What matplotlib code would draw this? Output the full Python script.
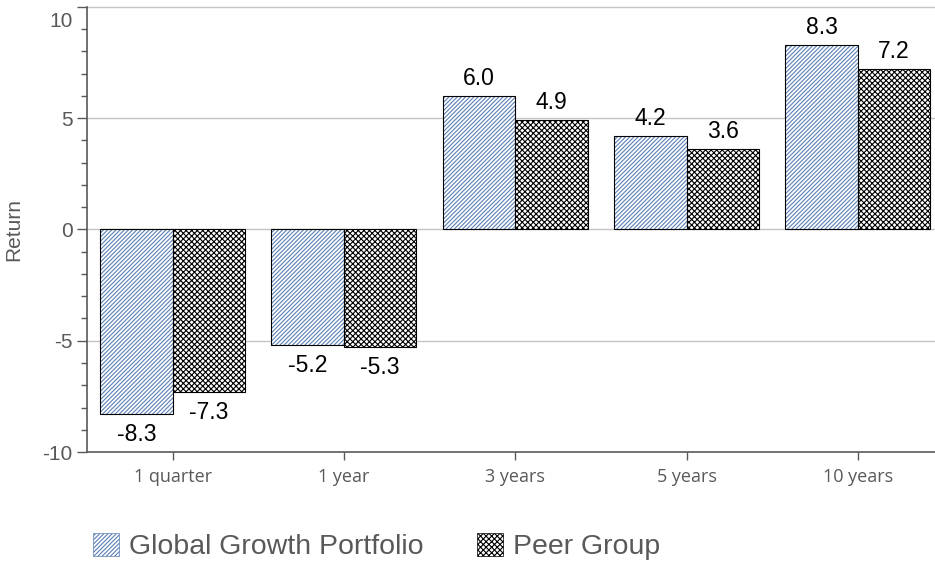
import matplotlib.pyplot as plt
import numpy as np
from matplotlib.patches import Patch
from matplotlib.ticker import MultipleLocator

plt.rcParams['hatch.linewidth'] = 0.8
plt.rcParams['axes.unicode_minus'] = False

categories = ['1 quarter', '1 year', '3 years', '5 years', '10 years']
portfolio = [-8.3, -5.2, 6.0, 4.2, 8.3]
peer = [-7.3, -5.3, 4.9, 3.6, 7.2]
series_names = ['Global Growth Portfolio', 'Peer Group']
yticks = [-10, -5, 0, 5, 10]

grey = '#595959'
blue_hatch = '#5b7fb5'

fig = plt.figure(figsize=(9.35, 5.67), dpi=100)
ax = fig.add_axes([0.093, 0.2028, 0.907, 0.785])

x = np.arange(len(categories))
w = 0.423

# hatch colour follows the edge colour, so the black outline is a second bar
ax.bar(x - w / 2, portfolio, w, color='white', edgecolor=blue_hatch,
       hatch='////////', linewidth=0, zorder=2)
ax.bar(x - w / 2, portfolio, w, fill=False, edgecolor='black', linewidth=0.8, zorder=3)
ax.bar(x + w / 2, peer, w, color='white', edgecolor='black',
       hatch='xxxxxx', linewidth=0.8, zorder=2)

for xs, vals in ((x - w / 2, portfolio), (x + w / 2, peer)):
    for xi, v in zip(xs, vals):
        if v >= 0:
            ax.text(xi, v + 0.28, f'{v:.1f}', ha='center', va='bottom',
                    fontsize=16.5, family='Liberation Sans', color='black')
        else:
            ax.text(xi, v - 0.4, f'{v:.1f}', ha='center', va='top',
                    fontsize=16.5, family='Liberation Sans', color='black')

ax.set_xlim(-0.5, 4.45)
ax.set_ylim(-10, 10)
ax.set_yticks(yticks)
ax.set_yticklabels([str(t) for t in yticks[:-1]] + [''],
                   family='Liberation Sans', fontsize=15, color=grey)
# top label sits a bit below its tick, like in the original
ax.annotate(str(yticks[-1]), xy=(0, yticks[-1]), xycoords=('axes fraction', 'data'),
            xytext=(-14, -15), textcoords='offset pixels', ha='right', va='center',
            family='Liberation Sans', fontsize=15, color=grey)
ax.yaxis.set_minor_locator(MultipleLocator(1))
ax.set_xticks(x)
ax.set_xticklabels(categories, family='Open Sans', fontsize=13, color=grey)

ax.tick_params(axis='y', which='major', length=7.2, width=1, color=grey, pad=3)
ax.tick_params(axis='y', which='minor', length=4, width=1, color=grey)
ax.tick_params(axis='x', length=5.8, width=1, color=grey, pad=6)

for yv in [-5, 0, 5, 10]:
    ax.axhline(yv, color='#c4c4c4', linewidth=1, zorder=1, clip_on=False)

for s in ['top', 'right']:
    ax.spines[s].set_visible(False)
for s in ['left', 'bottom']:
    ax.spines[s].set_color(grey)
    ax.spines[s].set_linewidth(1.2)

ax.set_ylabel('Return', family='Liberation Sans', fontsize=15, color=grey, labelpad=14)

handles = [Patch(facecolor='white', edgecolor=blue_hatch, hatch='////////', linewidth=0.5),
           Patch(facecolor='white', edgecolor='black', hatch='xxxxxx', linewidth=0.5)]
leg = fig.legend(handles, series_names, loc='lower left', bbox_to_anchor=(0.0995, 0.012),
                 ncol=2, frameon=False, handlelength=0.92, handleheight=0.88,
                 handletextpad=0.35, columnspacing=1.86, borderpad=0, borderaxespad=0,
                 prop={'family': 'Liberation Sans', 'size': 20.5})
for t in leg.get_texts():
    t.set_color(grey)

fig.savefig('out.png', dpi=100)
